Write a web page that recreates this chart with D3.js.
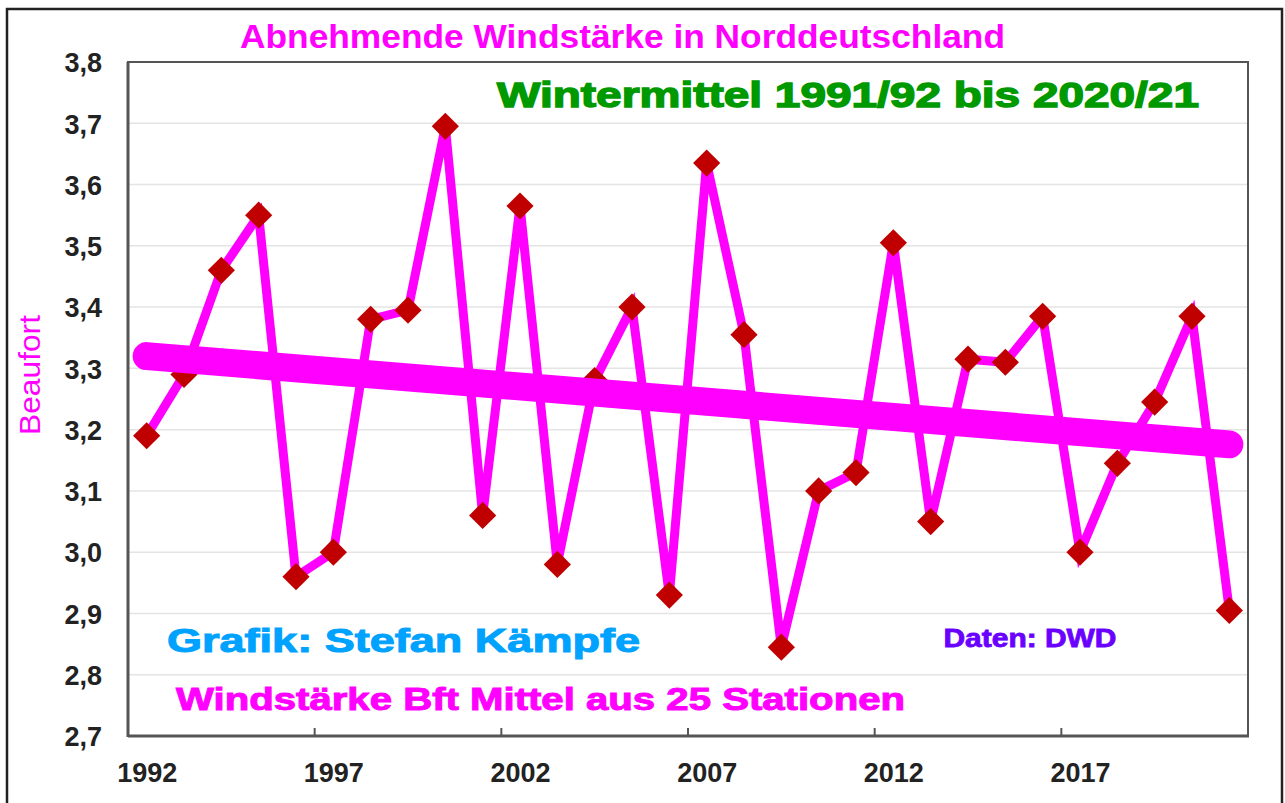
<!DOCTYPE html>
<html>
<head>
<meta charset="utf-8">
<script src="https://cdn.jsdelivr.net/npm/d3@7"></script>
<style>
  body { margin: 0; background: #fff; }
  svg { display: block; font-family: "Liberation Sans", Arial, sans-serif; }
</style>
</head>
<body>
<div id="chart"></div>
<script>
// Winter means, Beaufort, 1991/92 .. 2020/21 (labelled by the year of Jan/Feb)
var years = d3.range(1992, 2022);
var windBft = [3.19, 3.29, 3.46, 3.55, 2.96, 3.00, 3.38, 3.395, 3.695, 3.06,
               3.565, 2.98, 3.28, 3.40, 2.93, 3.635, 3.355, 2.845, 3.10, 3.13,
               3.505, 3.05, 3.315, 3.31, 3.385, 3.00, 3.145, 3.245, 3.385, 2.905];
// linear trend, start and end
var trendYears = [1992, 2021];
var trendBft = [3.32, 3.176];
var yTicks = [2.7, 2.8, 2.9, 3.0, 3.1, 3.2, 3.3, 3.4, 3.5, 3.6, 3.7, 3.8];
var xLabels = [1992, 1997, 2002, 2007, 2012, 2017];
var xTickMarks = [1997, 2002, 2007, 2012, 2017];

var svgWidth = 1285, svgHeight = 803;
var plot = { left: 128, right: 1248, top: 62, bottom: 736 };

var svg = d3.select("#chart").append("svg")
  .attr("width", svgWidth)
  .attr("height", svgHeight);

// outer frame
svg.append("rect")
  .attr("x", 7).attr("y", 9)
  .attr("width", 1275).attr("height", 830)
  .attr("fill", "#fff")
  .attr("stroke", "#222")
  .attr("stroke-width", 2.5);

// scales: category axis, points sit in the middle of each year slot
var xBand = d3.scaleBand().domain(years).range([plot.left, plot.right]);
var xMid = function(yr) { return xBand(yr) + xBand.bandwidth() / 2; };
var xPoint = d3.scalePoint().domain(years).range([plot.left, plot.right]).padding(0.5);
var y = d3.scaleLinear().domain([2.7, 3.8]).range([plot.bottom, plot.top]);

// grid lines
svg.append("g").selectAll("line")
  .data(yTicks.slice(1, -1))
  .enter().append("line")
  .attr("x1", plot.left).attr("x2", plot.right)
  .attr("y1", d => y(d)).attr("y2", d => y(d))
  .attr("stroke", "#e4e4e4")
  .attr("stroke-width", 1.5);

// plot frame
svg.append("rect")
  .attr("x", plot.left).attr("y", plot.top)
  .attr("width", plot.right - plot.left).attr("height", plot.bottom - plot.top)
  .attr("fill", "none")
  .attr("stroke", "#555")
  .attr("stroke-width", 2);
svg.append("line")
  .attr("x1", plot.left).attr("x2", plot.left)
  .attr("y1", plot.top).attr("y2", plot.bottom + 1)
  .attr("stroke", "#555").attr("stroke-width", 3);
svg.append("line")
  .attr("x1", plot.left).attr("x2", plot.right + 1)
  .attr("y1", plot.bottom).attr("y2", plot.bottom)
  .attr("stroke", "#555").attr("stroke-width", 3);

// small tick marks on the category boundaries
svg.append("g").selectAll("line")
  .data(xTickMarks)
  .enter().append("line")
  .attr("x1", d => xBand(d)).attr("x2", d => xBand(d))
  .attr("y1", plot.bottom).attr("y2", plot.bottom - 8)
  .attr("stroke", "#555").attr("stroke-width", 2);

// y axis labels
var yAxis = svg.append("g")
  .attr("transform", "translate(" + plot.left + ",0)")
  .call(d3.axisLeft(y).tickValues(yTicks).tickSize(0).tickPadding(26)
    .tickFormat(d => d3.format(".1f")(d).replace(".", ",")));
yAxis.select(".domain").remove();
yAxis.selectAll("text")
  .attr("font-family", "'Liberation Sans', Arial, sans-serif")
  .attr("font-size", 27).attr("font-weight", "bold").attr("fill", "#222")
  .attr("dy", "0.36em");

// x axis labels
var xAxis = svg.append("g")
  .attr("transform", "translate(0," + plot.bottom + ")")
  .call(d3.axisBottom(xPoint).tickValues(xLabels).tickSize(0).tickPadding(0));
xAxis.select(".domain").remove();
xAxis.selectAll("text")
  .attr("font-family", "'Liberation Sans', Arial, sans-serif")
  .attr("font-size", 27).attr("font-weight", "bold").attr("fill", "#222")
  .attr("y", 46).attr("dy", 0);

// data line
var line = d3.line().x((d, i) => xMid(years[i])).y(d => y(d));
svg.append("path")
  .datum(windBft)
  .attr("d", line)
  .attr("fill", "none")
  .attr("stroke", "#ff00ff")
  .attr("stroke-width", 9)
  .attr("stroke-linejoin", "miter");

// diamond markers
svg.append("g").selectAll("path")
  .data(windBft)
  .enter().append("path")
  .attr("d", d3.symbol().type(d3.symbolSquare).size(370))
  .attr("transform", (d, i) => "translate(" + xMid(years[i]) + "," + y(d) + ") rotate(45)")
  .attr("fill", "#c00000");

// trend line on top
svg.append("line")
  .attr("x1", xMid(trendYears[0])).attr("y1", y(trendBft[0]))
  .attr("x2", xMid(trendYears[1])).attr("y2", y(trendBft[1]))
  .attr("stroke", "#ff00ff")
  .attr("stroke-width", 28)
  .attr("stroke-linecap", "round");

// texts
function addText(txt, x, yy, size, color, width, thick) {
  return svg.append("text")
    .attr("x", x).attr("y", yy)
    .attr("text-anchor", "middle")
    .attr("font-size", size)
    .attr("font-weight", "bold")
    .attr("fill", color)
    .attr("stroke", color)
    .attr("stroke-width", thick)
    .attr("textLength", width)
    .attr("lengthAdjust", "spacingAndGlyphs")
    .text(txt);
}
addText("Abnehmende Windstärke in Norddeutschland", 622.5, 48, 34, "#ff00ff", 765, 0);
addText("Wintermittel 1991/92 bis 2020/21", 848, 107, 35, "#009900", 702, 1.4);
addText("Grafik: Stefan Kämpfe", 403.5, 652, 33, "#00a2ff", 473, 1);
addText("Windstärke Bft Mittel aus 25 Stationen", 540.5, 710, 32, "#ff00ff", 729, 1);
addText("Daten: DWD", 1030, 647, 25, "#6a00ff", 173, 0.8);

svg.append("text")
  .attr("transform", "translate(40,375) rotate(-90)")
  .attr("text-anchor", "middle")
  .attr("font-size", 30)
  .attr("fill", "#ff00ff")
  .attr("textLength", 120)
  .attr("lengthAdjust", "spacingAndGlyphs")
  .text("Beaufort");
</script>
</body>
</html>
